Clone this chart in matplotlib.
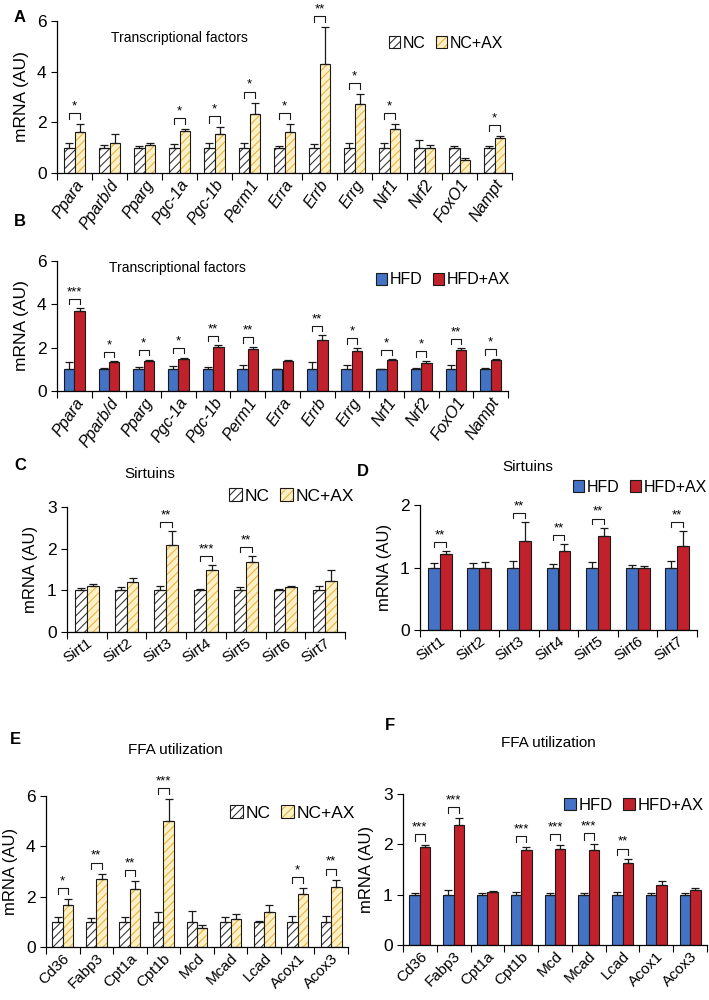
import numpy as np
import matplotlib.pyplot as plt
from matplotlib.patches import Patch

plt.rcParams['font.family'] = ['Liberation Sans', 'DejaVu Sans']
plt.rcParams['hatch.linewidth'] = 0.8

# ---- data ----
tf_genes = ['Ppara', 'Pparb/d', 'Pparg', 'Pgc-1a', 'Pgc-1b', 'Perm1', 'Erra',
            'Errb', 'Errg', 'Nrf1', 'Nrf2', 'FoxO1', 'Nampt']
# A: NC vs NC+AX
a_nc = [1, 1, 1, 1, 1, 1, 1, 1, 1, 1, 1, 1, 1]
a_nc_err = [0.17, 0.1, 0.05, 0.15, 0.18, 0.17, 0.08, 0.15, 0.2, 0.2, 0.3, 0.08, 0.08]
a_ax = [1.62, 1.2, 1.1, 1.67, 1.52, 2.32, 1.63, 4.3, 2.73, 1.75, 1.0, 0.5, 1.37]
a_ax_err = [0.3, 0.35, 0.07, 0.08, 0.28, 0.46, 0.3, 1.47, 0.38, 0.18, 0.12, 0.1, 0.1]
a_sig = ['*', '', '', '*', '*', '*', '*', '**', '*', '*', '', '', '*']
# B: HFD vs HFD+AX
b_hfd = [1, 1, 1, 1, 1, 1, 1, 1, 1, 1, 1, 1, 1]
b_hfd_err = [0.34, 0.04, 0.1, 0.17, 0.12, 0.2, 0.03, 0.35, 0.18, 0.03, 0.07, 0.22, 0.08]
b_ax = [3.67, 1.32, 1.38, 1.49, 2.03, 1.95, 1.4, 2.37, 1.86, 1.43, 1.28, 1.9, 1.42]
b_ax_err = [0.15, 0.05, 0.07, 0.05, 0.09, 0.09, 0.02, 0.2, 0.14, 0.04, 0.12, 0.07, 0.07]
b_sig = ['***', '*', '*', '*', '**', '**', '', '**', '*', '*', '*', '**', '*']

sirt_genes = ['Sirt1', 'Sirt2', 'Sirt3', 'Sirt4', 'Sirt5', 'Sirt6', 'Sirt7']
# C: NC vs NC+AX
c_nc = [1, 1, 1, 1, 1, 1, 1]
c_nc_err = [0.06, 0.08, 0.1, 0.04, 0.08, 0.03, 0.1]
c_ax = [1.1, 1.2, 2.1, 1.5, 1.67, 1.08, 1.23]
c_ax_err = [0.05, 0.1, 0.32, 0.1, 0.15, 0.02, 0.25]
c_sig = ['', '', '**', '***', '**', '', '']
# D: HFD vs HFD+AX
d_hfd = [1, 1, 1, 1, 1, 1, 1]
d_hfd_err = [0.07, 0.07, 0.1, 0.05, 0.09, 0.04, 0.11]
d_ax = [1.21, 1.0, 1.42, 1.27, 1.51, 1.0, 1.34]
d_ax_err = [0.05, 0.09, 0.31, 0.1, 0.13, 0.03, 0.25]
d_sig = ['**', '', '**', '**', '**', '', '**']

ffa_genes = ['Cd36', 'Fabp3', 'Cpt1a', 'Cpt1b', 'Mcd', 'Mcad', 'Lcad', 'Acox1', 'Acox3']
# E: NC vs NC+AX
e_nc = [1, 1, 1, 1, 1, 1, 1, 1, 1]
e_nc_err = [0.2, 0.15, 0.18, 0.4, 0.45, 0.2, 0.02, 0.25, 0.25]
e_ax = [1.65, 2.7, 2.31, 5.01, 0.74, 1.13, 1.39, 2.11, 2.4]
e_ax_err = [0.27, 0.22, 0.32, 0.86, 0.12, 0.17, 0.29, 0.25, 0.28]
e_sig = ['*', '**', '**', '***', '', '', '', '*', '**']
# F: HFD vs HFD+AX
f_hfd = [1, 1, 1, 1, 1, 1, 1, 1, 1]
f_hfd_err = [0.04, 0.1, 0.03, 0.05, 0.04, 0.04, 0.05, 0.04, 0.03]
f_ax = [1.94, 2.38, 1.05, 1.88, 1.91, 1.89, 1.63, 1.2, 1.1]
f_ax_err = [0.04, 0.14, 0.02, 0.07, 0.08, 0.11, 0.07, 0.08, 0.04]
f_sig = ['***', '***', '', '***', '***', '***', '**', '', '']

W, H = 709, 1000
fig = plt.figure(figsize=(W / 100, H / 100), dpi=100)


def px(l, t, r, b):
    return [l / W, 1 - b / H, (r - l) / W, (b - t) / H]


# styles: (face, hatch color, hatch)
NC = ('white', '#3a3a3a', '////')
NCAX = ('#fff1c4', '#e8b248', '////')
HFD = ('#4472c4', None, None)
HFDAX = ('#c0212b', None, None)


def bars(ax, x, vals, errs, st, w):
    face, hc, hatch = st
    if hatch:
        ax.bar(x, vals, w, color=face, edgecolor=hc, hatch=hatch, linewidth=0)
        ax.bar(x, vals, w, fill=False, edgecolor='#1a1a1a', linewidth=0.8)
    else:
        ax.bar(x, vals, w, color=face, edgecolor='#1a1a1a', linewidth=0.8)
    ax.errorbar(x, vals, yerr=[np.zeros(len(vals)), errs], fmt='none',
                ecolor='#1a1a1a', elinewidth=0.9, capsize=3, capthick=0.9)


def handle(st):
    face, hc, hatch = st
    if hatch:
        return (Patch(facecolor=face, edgecolor=hc, hatch=hatch, linewidth=0),
                Patch(fill=False, edgecolor='#1a1a1a', linewidth=0.8))
    return Patch(facecolor=face, edgecolor='#1a1a1a', linewidth=0.8)


def panel(rect, cats, v1, e1, v2, e2, sig, sts, ymax, ystep, rot, italic,
          ylab_fs, tick_fs, w=0.3):
    ax = fig.add_axes(px(*rect))
    n = len(cats)
    x = np.arange(n)
    bars(ax, x - w / 2, v1, e1, sts[0], w)
    bars(ax, x + w / 2, v2, e2, sts[1], w)
    for i, s in enumerate(sig):
        if not s:
            continue
        top = max(v1[i] + e1[i], v2[i] + e2[i])
        yb = top + 0.072 * ymax
        ax.plot([x[i] - w / 2, x[i] - w / 2, x[i] + w / 2, x[i] + w / 2],
                [yb - 0.04 * ymax, yb, yb, yb - 0.04 * ymax],
                color='#1a1a1a', lw=0.8, clip_on=False)
        ax.text(x[i], yb + 0.005 * ymax, s, ha='center', va='bottom',
                fontsize=9.5, clip_on=False)
    ax.set_xlim(-0.5, n - 0.5)
    ax.set_ylim(0, ymax)
    ax.set_yticks(np.arange(0, ymax + 0.01, ystep))
    ax.set_xticks(x)
    ax.set_xticks(np.arange(-0.5, n, 1), minor=True)
    ax.set_xticklabels(cats, rotation=rot, ha='right', rotation_mode='anchor',
                       fontsize=tick_fs, style='italic' if italic else 'normal')
    ax.tick_params(axis='x', which='major', length=0, pad=3)
    ax.tick_params(axis='x', which='minor', length=5, width=0.8)
    ax.tick_params(axis='y', length=4, width=0.8, labelsize=12.5)
    for sp in ['top', 'right']:
        ax.spines[sp].set_visible(False)
    for sp in ['left', 'bottom']:
        ax.spines[sp].set_linewidth(0.9)
    ax.set_ylabel('mRNA (AU)', fontsize=ylab_fs, labelpad=6)
    return ax


def legend(ax, sts, names, xy, fs):
    ax.legend([handle(sts[0]), handle(sts[1])], names, loc='center',
              bbox_to_anchor=(xy[0] / W, 1 - xy[1] / H), bbox_transform=fig.transFigure,
              ncol=2, frameon=False, fontsize=fs, handlelength=0.7, handleheight=0.7,
              handletextpad=0.2, columnspacing=0.6, borderpad=0)


def title(x, y, s, fs):
    fig.text(x / W, 1 - y / H, s, fontsize=fs, ha='center', va='center')


# A
axA = panel((57, 21, 512, 173), tf_genes, a_nc, a_nc_err, a_ax, a_ax_err, a_sig,
            (NC, NCAX), 6, 2, 55, True, 12.5, 11.5)
legend(axA, (NC, NCAX), ['NC', 'NC+AX'], (446, 43), 11.5)
title(179, 38, 'Transcriptional factors', 10)

# B
axB = panel((57, 261, 508, 391), tf_genes, b_hfd, b_hfd_err, b_ax, b_ax_err, b_sig,
            (HFD, HFDAX), 6, 2, 55, True, 12.5, 11.5)
legend(axB, (HFD, HFDAX), ['HFD', 'HFD+AX'], (443, 280), 11.5)
title(177, 268, 'Transcriptional factors', 10)

# C
axC = panel((67, 507, 345, 632), sirt_genes, c_nc, c_nc_err, c_ax, c_ax_err, c_sig,
            (NC, NCAX), 3, 1, 35, False, 12, 11)
legend(axC, (NC, NCAX), ['NC', 'NC+AX'], (292, 496), 12.5)
title(150, 474, 'Sirtuins', 11)

# D
axD = panel((420, 505, 697, 630), sirt_genes, d_hfd, d_hfd_err, d_ax, d_ax_err, d_sig,
            (HFD, HFDAX), 2, 1, 35, False, 12, 11)
legend(axD, (HFD, HFDAX), ['HFD', 'HFD+AX'], (640, 487), 11.5)
title(528, 467, 'Sirtuins', 11)

# E
axE = panel((46, 796, 348, 947), ffa_genes, e_nc, e_nc_err, e_ax, e_ax_err, e_sig,
            (NC, NCAX), 6, 2, 45, False, 12, 11, w=0.31)
legend(axE, (NC, NCAX), ['NC', 'NC+AX'], (293, 813), 12.5)
title(175, 750, 'FFA utilization', 11)

# F
axF = panel((403, 794, 707, 945), ffa_genes, f_hfd, f_hfd_err, f_ax, f_ax_err, f_sig,
            (HFD, HFDAX), 3, 1, 45, False, 12, 11, w=0.31)
legend(axF, (HFD, HFDAX), ['HFD', 'HFD+AX'], (634, 805), 12)
title(548, 743, 'FFA utilization', 11)

# panel letters
for lab, (lx, ly) in zip('ABCDEF', [(20, 18), (20, 222), (20, 465), (363, 472),
                                    (15, 739), (390, 725)]):
    fig.text(lx / W, 1 - ly / H, lab, fontsize=12, fontweight='bold', ha='center', va='center')

fig.savefig('out.png', dpi=100)
